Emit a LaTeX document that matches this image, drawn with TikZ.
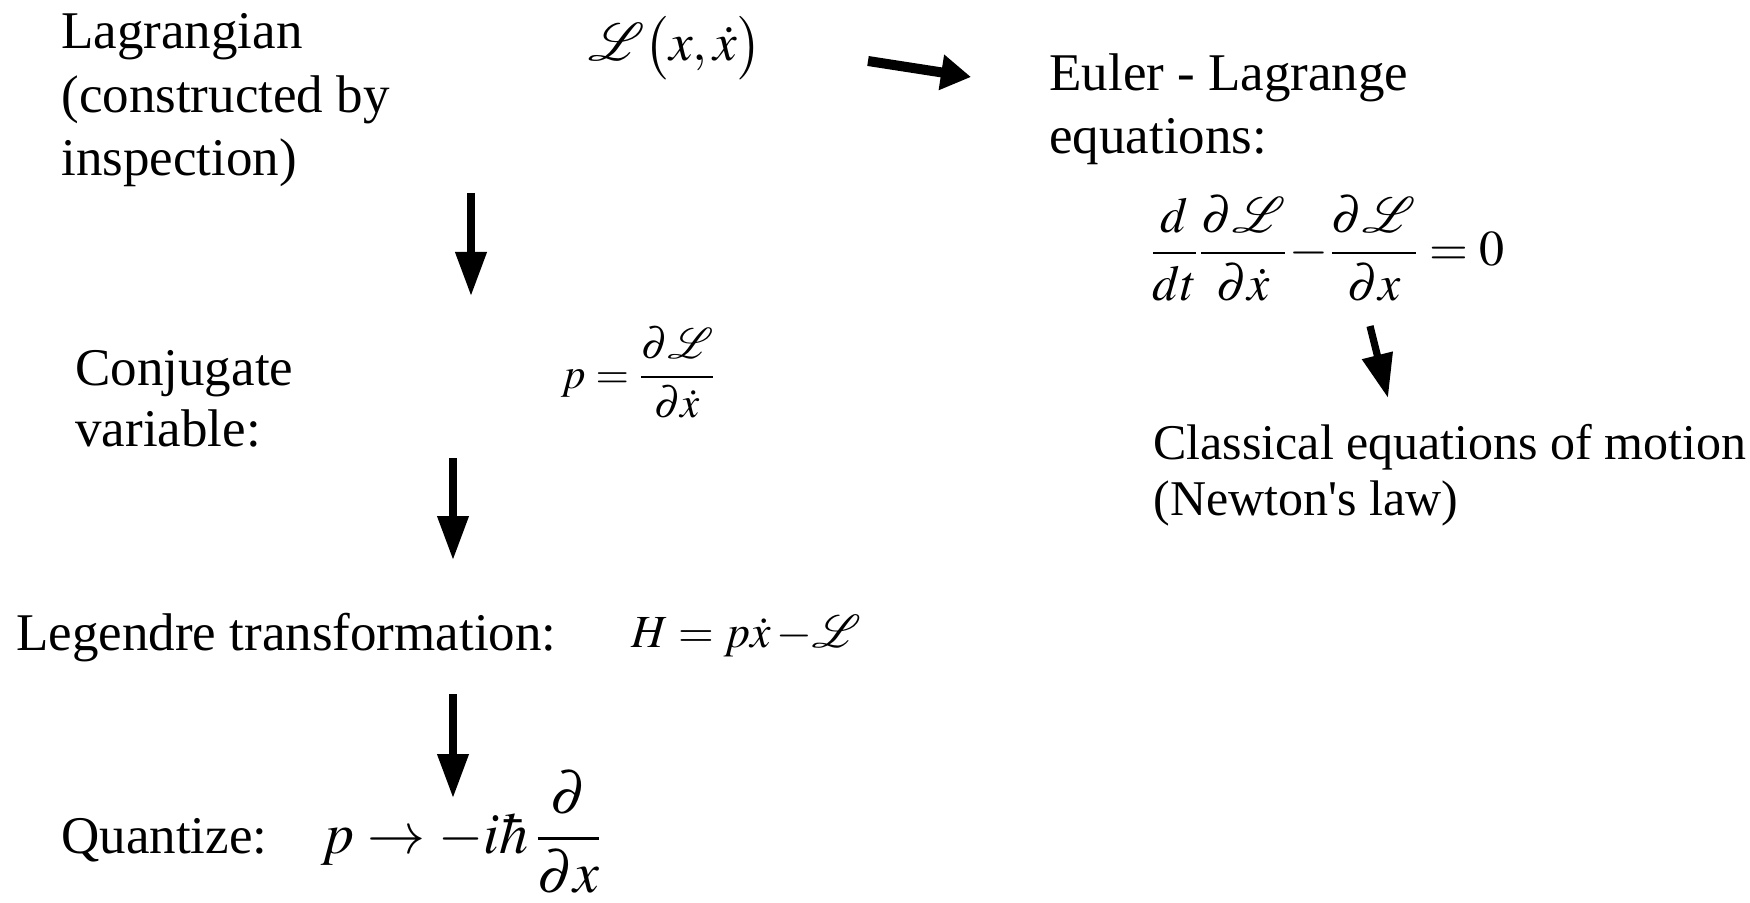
\documentclass[tikz,border=0pt]{standalone}
\usepackage{amsmath}
\usepackage{mathptmx}
\usepackage{fontspec}
\setmainfont{Liberation Serif}
\usetikzlibrary{arrows.meta}
\tikzset{
  txt/.style={anchor=base west, inner sep=0pt, align=left, font=\fontsize{26.5}{31.75}\selectfont},
  mth/.style={anchor=base west, inner sep=0pt},
  flow/.style={line width=3.6pt, -{Triangle[length=22pt, width=15pt]}},
  flowr/.style={line width=5pt, -{Triangle[length=15pt, width=17pt]}}
}
\begin{document}
\begin{tikzpicture}[x=0.5pt, y=-0.5pt]
\useasboundingbox (0,0) rectangle (1750,903);
% left column (base = last line)
\node[txt] (lagtxt) at (61,176) {Lagrangian\\(constructed by\\inspection)};
\node[mth, font=\fontsize{26.5}{31.75}\selectfont] (lag) at (588,61) {$\mathcal{L}\bigl(x,\dot{x}\bigr)$};
\node[txt, font=\fontsize{26.5}{30.5}\selectfont] (conj) at (75,446) {Conjugate\\variable:};
\node[mth, font=\fontsize{21.5}{26}\selectfont] (pdef) at (561,388) {$\displaystyle p=\frac{\partial\mathcal{L}}{\partial\dot{x}}$};
\node[txt] (leg) at (16,650) {Legendre transformation:};
\node[mth, font=\fontsize{23}{28}\selectfont] (ham) at (631,647) {$H = p\dot{x}\,{-}\mathcal{L}$};
\node[txt] (quant) at (61,853) {Quantize:};
\node[mth, font=\fontsize{29}{34}\selectfont] (qrule) at (321,853) {$\displaystyle p\rightarrow -i\hbar\,\frac{\partial}{\partial x}$};
% right column
\node[txt] (eltxt) at (1049,154) {Euler - Lagrange\\equations:};
\node[mth, font=\fontsize{25}{30}\selectfont] (eleq) at (1150,266) {$\displaystyle \frac{d}{dt}\frac{\partial\mathcal{L}}{\partial\dot{x}}\!-\!\frac{\partial\mathcal{L}}{\partial x}=0$};
\node[txt, font=\fontsize{25}{28}\selectfont] (classic) at (1153,515) {Classical equations of motion\\(Newton\textquotesingle s law)};
% arrow end points
\coordinate (a1s) at (471,193); \coordinate (a1e) at (471,296);
\coordinate (a2s) at (453,458); \coordinate (a2e) at (453,560);
\coordinate (a3s) at (453,694); \coordinate (a3e) at (453,798);
\coordinate (a4s) at (868,61);  \coordinate (a4e) at (971,77);
\coordinate (a5s) at (1370,326); \coordinate (a5e) at (1388,398);
\draw[flow] (a1s) -- (a1e);
\draw[flow] (a2s) -- (a2e);
\draw[flow] (a3s) -- (a3e);
\draw[flowr] (a4s) -- (a4e);
\draw[flow] (a5s) -- (a5e);
\end{tikzpicture}
\end{document}
